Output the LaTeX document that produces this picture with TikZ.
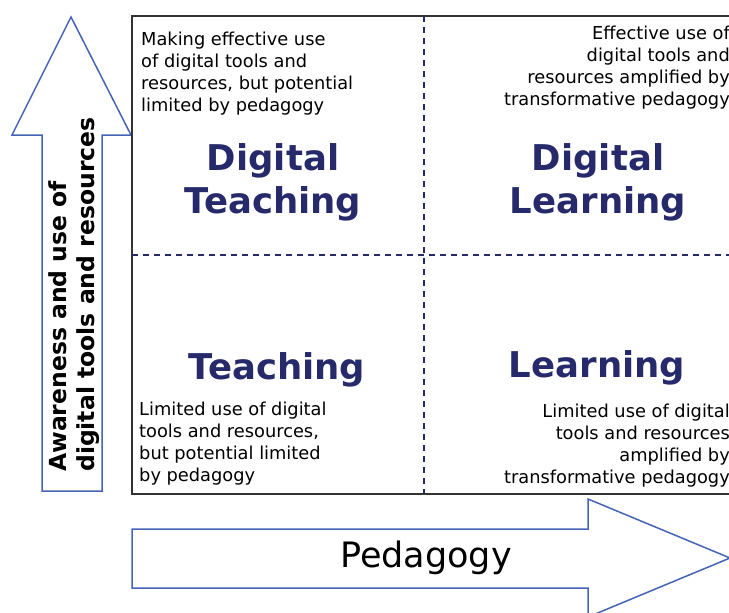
\documentclass[tikz,border=0pt]{standalone}
\usepackage{fontspec}
\setmainfont{DejaVu Sans}
\begin{document}
\begin{tikzpicture}[x=1pt, y=-1pt,
    note/.style={inner sep=0pt, font=\fontsize{17.8}{22}\selectfont},
    quadrant/.style={inner sep=0pt, align=center, text=my-navy, font=\fontsize{35.5}{43}\selectfont\bfseries},
    axisarrow/.style={draw=my-blue, line width=1.5pt, fill=white},
    divider/.style={draw=my-navy, line width=1.8pt, dash pattern=on 6pt off 5pt}]
    \definecolor{my-blue}{RGB}{69,100,181}
    \definecolor{my-navy}{RGB}{38,42,107}
    \useasboundingbox (0,0) rectangle (729,613);
    \clip (0,0) rectangle (729,613);
    % axis arrows
    \draw[axisarrow] (42,491) -- (42,135) -- (12,135) -- (71,17) -- (131,135) -- (102,135) -- (102,491) -- cycle;
    \draw[axisarrow] (132,529) -- (588,529) -- (588,499) -- (730,558) -- (588,617) -- (588,588) -- (132,588) -- cycle;
    % grid
    \draw[line width=1.5pt, draw=black!80] (132,16) rectangle (770,494);
    \draw[divider] (424,16) -- (424,494);
    \draw[divider] (132,255) -- (770,255);
    % quadrant texts
    \node[note, anchor=north west, align=left] (tl) at (141,32) {Making effective use\\of digital tools and\\resources, but potential\\limited by pedagogy};
    \node[note, anchor=north east, align=right] (tr) at (730,26) {Effective use of\\digital tools and\\resources amplified by\\transformative pedagogy};
    \node[note, anchor=north west, align=left] (bl) at (139,402) {Limited use of digital\\tools and resources,\\but potential limited\\by pedagogy};
    \node[note, anchor=north east, align=right] (br) at (730,404) {Limited use of digital\\tools and resources\\amplified by\\transformative pedagogy};
    \node[quadrant, anchor=north] (dteach) at (273,143) {Digital\\Teaching};
    \node[quadrant, anchor=north] (dlearn) at (598,143) {Digital\\Learning};
    \node[quadrant, anchor=base] (teach) at (277,379) {Teaching};
    \node[quadrant, anchor=base] (learn) at (597,377) {Learning};
    % axis labels
    \node[rotate=90, anchor=west, align=left, inner sep=0pt, font=\fontsize{23.5}{28}\selectfont\bfseries] (aware) at (74,472) {Awareness and use of\\digital tools and resources};
    \node[anchor=base, inner sep=0pt, font=\fontsize{35}{42}\selectfont] (peda) at (426,567) {Pedagogy};
\end{tikzpicture}
\end{document}
